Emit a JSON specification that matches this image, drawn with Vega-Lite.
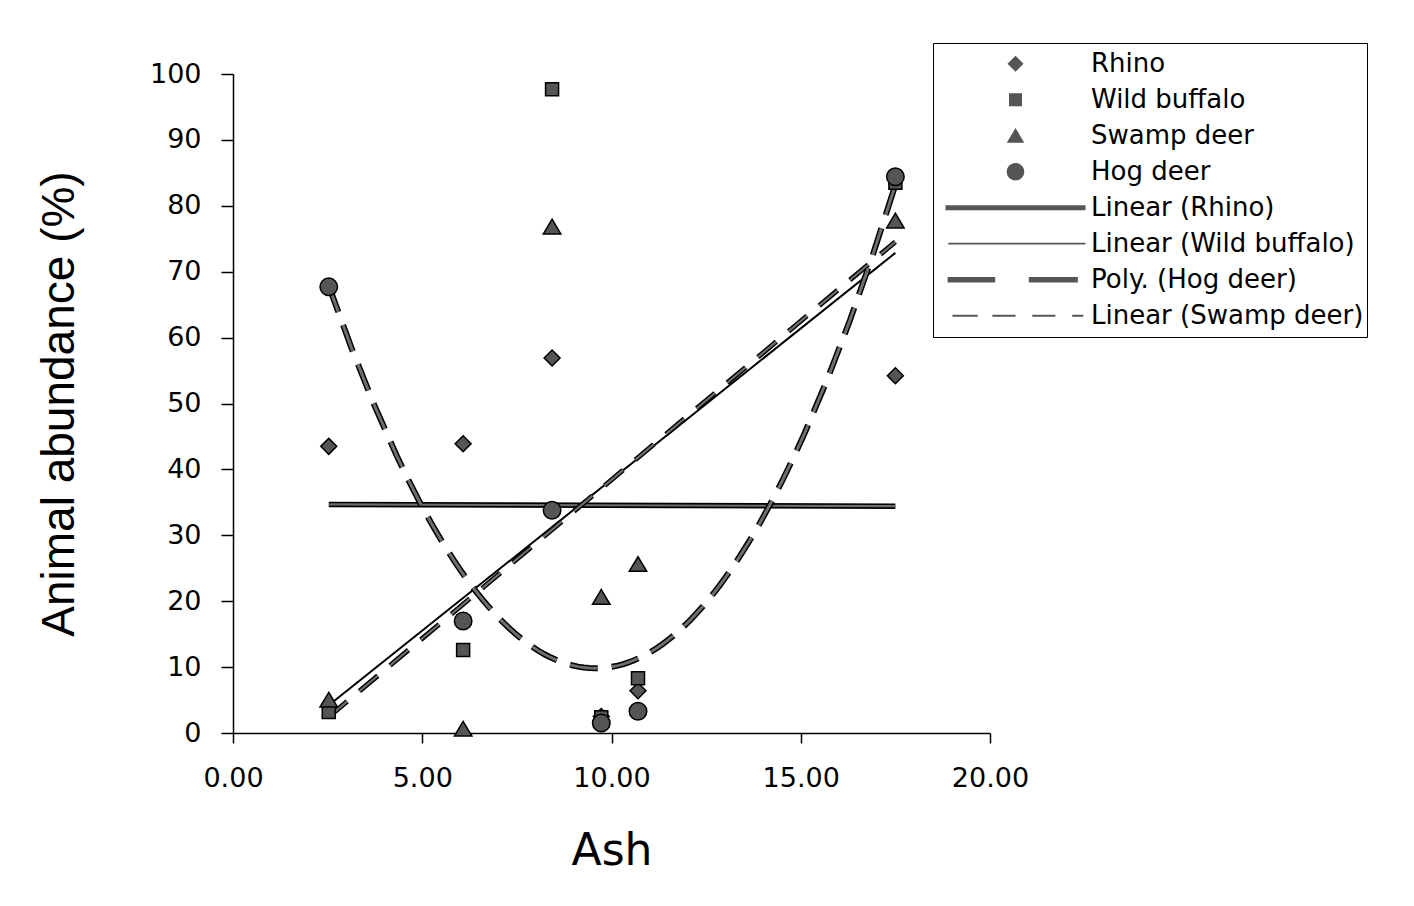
{
  "$schema": "https://vega.github.io/schema/vega-lite/v6.json",
  "width": 757,
  "height": 659,
  "autosize": {"type": "none"},
  "padding": {"left": 233, "top": 74, "right": 424, "bottom": 173},
  "background": "white",
  "config": {
    "view": {"stroke": null},
    "font": "DejaVu Sans",
    "axis": {
      "grid": false,
      "domainColor": "#000",
      "domainWidth": 1.5,
      "tickColor": "#000",
      "tickWidth": 1.5,
      "labelColor": "#000",
      "titleColor": "#000",
      "labelFont": "DejaVu Sans",
      "labelFontSize": 27,
      "titleFontWeight": "normal"
    }
  },
  "data": {
    "values": [
      {"ash": 2.53, "abundance": 43.5, "species": "Rhino"},
      {"ash": 6.08, "abundance": 43.9, "species": "Rhino"},
      {"ash": 8.43, "abundance": 56.9, "species": "Rhino"},
      {"ash": 9.73, "abundance": 2.5, "species": "Rhino"},
      {"ash": 10.7, "abundance": 6.4, "species": "Rhino"},
      {"ash": 17.5, "abundance": 54.2, "species": "Rhino"},
      {"ash": 2.53, "abundance": 3.2, "species": "Wild buffalo"},
      {"ash": 6.08, "abundance": 12.6, "species": "Wild buffalo"},
      {"ash": 8.43, "abundance": 97.7, "species": "Wild buffalo"},
      {"ash": 9.73, "abundance": 2.4, "species": "Wild buffalo"},
      {"ash": 10.7, "abundance": 8.3, "species": "Wild buffalo"},
      {"ash": 17.5, "abundance": 83.5, "species": "Wild buffalo"},
      {"ash": 2.53, "abundance": 5.0, "species": "Swamp deer"},
      {"ash": 6.08, "abundance": 0.6, "species": "Swamp deer"},
      {"ash": 8.43, "abundance": 76.8, "species": "Swamp deer"},
      {"ash": 9.73, "abundance": 20.6, "species": "Swamp deer"},
      {"ash": 10.7, "abundance": 25.6, "species": "Swamp deer"},
      {"ash": 17.5, "abundance": 77.7, "species": "Swamp deer"},
      {"ash": 2.53, "abundance": 67.7, "species": "Hog deer"},
      {"ash": 6.08, "abundance": 17.0, "species": "Hog deer"},
      {"ash": 8.43, "abundance": 33.8, "species": "Hog deer"},
      {"ash": 9.73, "abundance": 1.5, "species": "Hog deer"},
      {"ash": 10.7, "abundance": 3.3, "species": "Hog deer"},
      {"ash": 17.5, "abundance": 84.4, "species": "Hog deer"}
    ]
  },
  "encoding": {
    "x": {
      "field": "ash",
      "type": "quantitative",
      "scale": {"domain": [0, 20], "nice": false, "zero": false},
      "axis": {
        "values": [0, 5, 10, 15, 20],
        "format": ".2f",
        "title": "Ash",
        "titleFont": "DejaVu Sans",
        "titleFontSize": 44,
        "titlePadding": 38,
        "tickSize": 10,
        "labelPadding": 22,
        "labelFlush": false,
        "labelOverlap": false
      }
    },
    "y": {
      "field": "abundance",
      "type": "quantitative",
      "scale": {"domain": [0, 100], "nice": false},
      "axis": {
        "values": [0, 10, 20, 30, 40, 50, 60, 70, 80, 90, 100],
        "title": "Animal abundance (%)",
        "titleFont": "Liberation Sans",
        "titleFontSize": 46,
        "titlePadding": 66,
        "tickSize": 12,
        "labelPadding": 20,
        "labelOverlap": false
      }
    }
  },
  "layer": [
    {
      "transform": [
        {"filter": "datum.species === 'Rhino'"},
        {"regression": "abundance", "on": "ash"}
      ],
      "layer": [
        {"mark": {"type": "line", "color": "#000", "strokeWidth": 5.5}},
        {"mark": {"type": "line", "color": "#6e6e6e", "strokeWidth": 2.2}}
      ]
    },
    {
      "transform": [
        {"filter": "datum.species === 'Wild buffalo'"},
        {"regression": "abundance", "on": "ash"}
      ],
      "mark": {"type": "line", "color": "#000", "strokeWidth": 2}
    },
    {
      "transform": [
        {"filter": "datum.species === 'Swamp deer'"},
        {"regression": "abundance", "on": "ash"}
      ],
      "layer": [
        {"mark": {"type": "line", "color": "#000", "strokeWidth": 5, "strokeDash": [24, 16]}},
        {"mark": {"type": "line", "color": "#6e6e6e", "strokeWidth": 2.2, "strokeDash": [24, 16]}}
      ]
    },
    {
      "transform": [
        {"filter": "datum.species === 'Hog deer'"},
        {"regression": "abundance", "on": "ash", "method": "poly", "order": 2}
      ],
      "layer": [
        {"mark": {"type": "line", "color": "#000", "strokeWidth": 6, "strokeDash": [28, 14]}},
        {"mark": {"type": "line", "color": "#6e6e6e", "strokeWidth": 3, "strokeDash": [28, 14]}}
      ]
    },
    {
      "mark": {
        "type": "point",
        "filled": true,
        "fill": "#555555",
        "stroke": "#000",
        "strokeWidth": 1.5,
        "opacity": 1,
        "size": 19600
      },
      "encoding": {
        "shape": {
          "field": "species",
          "type": "nominal",
          "scale": {
            "domain": ["Rhino", "Wild buffalo", "Swamp deer", "Hog deer", "Linear (Rhino)", "Linear (Wild buffalo)", "Poly. (Hog deer)", "Linear (Swamp deer)"],
            "range": [
              "M0,-0.114L0.114,0L0,0.114L-0.114,0Z",
              "M-0.093,-0.093L0.093,-0.093L0.093,0.093L-0.093,0.093Z",
              "M0,-0.11L0.125,0.1L-0.125,0.1Z",
              "M-0.125,0A0.125,0.125,0,1,1,0.125,0A0.125,0.125,0,1,1,-0.125,0Z",
              "M-1,-0.036L1,-0.036L1,0.036L-1,0.036Z",
              "M-0.96,-0.012L1,-0.012L1,0.012L-0.96,0.012Z",
              "M-0.97,-0.04L-0.29,-0.04L-0.29,0.04L-0.97,0.04ZM0.19,-0.04L0.89,-0.04L0.89,0.04L0.19,0.04Z",
              "M-0.9,-0.014L-0.54,-0.014L-0.54,0.014L-0.9,0.014ZM-0.33,-0.014L0,-0.014L0,0.014L-0.33,0.014ZM0.24,-0.014L0.57,-0.014L0.57,0.014L0.24,0.014ZM0.81,-0.014L0.97,-0.014L0.97,0.014L0.81,0.014Z"
            ]
          },
          "legend": {
            "title": null,
            "orient": "none",
            "legendX": 700,
            "legendY": -31,
            "padding": 3,
            "strokeColor": "#000",
            "fillColor": "white",
            "symbolSize": 19600,
            "symbolOffset": 9,
            "labelOffset": 5,
            "labelFont": "DejaVu Sans",
            "labelFontSize": 26,
            "labelColor": "#000",
            "labelLimit": 400,
            "clipHeight": 35.4,
            "rowPadding": 0,
            "symbolFillColor": "#555555",
            "symbolStrokeColor": "#000",
            "symbolStrokeWidth": 1,
            "encode": {
              "symbols": {
                "update": {
                  "fill": {"value": "#555555"},
                  "stroke": {"value": "#000000"},
                  "strokeWidth": {"value": 1.2},
                  "opacity": {"value": 1}
                }
              }
            }
          }
        }
      }
    }
  ]
}
